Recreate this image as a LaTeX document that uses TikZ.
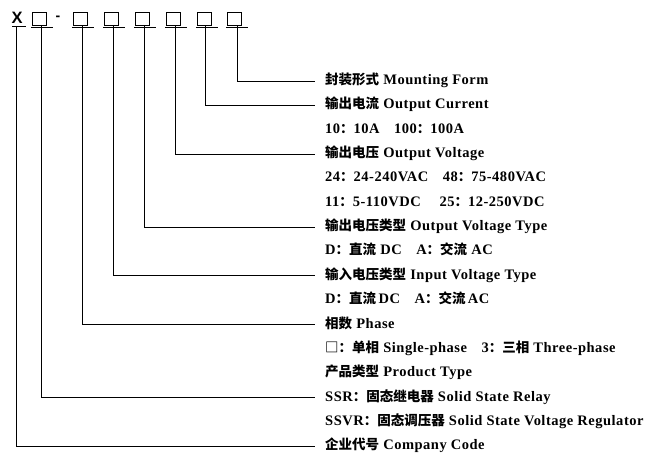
\documentclass[tikz,border=0pt]{standalone}
\usepackage{fontspec}
\setmainfont{Liberation Serif}[LetterSpace=3.5]
\newfontfamily\cjk{Noto Sans CJK SC}
\newfontfamily\topfont{Liberation Sans}
\newcommand\zh[1]{{\cjk\fontsize{13.5}{14}\selectfont #1}}
\begin{document}
\begin{tikzpicture}[x=1pt,y=-1pt,
  conn/.style={line width=0.9pt,black},
  codebox/.style={draw,line width=0.8pt,minimum width=14pt,minimum height=12.5pt,inner sep=0pt,anchor=north west},
  lab/.style={anchor=west,inner sep=0pt,font=\bfseries\fontsize{14.5}{15}\selectfont,text height=10pt,text depth=3pt},
]
\useasboundingbox (0,0) rectangle (650,462);
% top code
\node[inner sep=0pt,anchor=north west,font=\topfont\bfseries\fontsize{16.5}{17}\selectfont] (x) at (11.5,11.5) {X};
\node[inner sep=0pt,font=\topfont\bfseries\fontsize{14}{14}\selectfont] (dash) at (58,18.5) {-};
\foreach \i/\l in {1/32,2/73,3/104,4/135,5/166,6/197,7/227}{
  \node[codebox] (b\i) at (\l,12.3) {};
}
% underlines
\draw[conn] (12,26.5) -- (26,26.5);
\foreach \i in {1,...,7}{
  \draw[conn] ([shift={(-1,2)}]b\i.south west) -- ([shift={(6,2)}]b\i.south east);
}
% start points
\coordinate (u0) at (16,26.5);
\foreach \i/\xx in {1/41,2/82,3/113,4/144,5/175,6/205,7/237}{
  \coordinate (u\i) at (\xx,26.5);
}
% labels
\def\rowy#1{81+24.35*#1}
\node[lab] (l0) at (325,{\rowy{0}}) {\zh{封装形式} Mounting Form};
\node[lab] (l1) at (325,{\rowy{1}}) {\zh{输出电流} Output Current};
\node[lab] (l2) at (325,{\rowy{2}}) {10\zh{：}10A\quad 100\zh{：}100A};
\node[lab] (l3) at (325,{\rowy{3}}) {\zh{输出电压} Output Voltage};
\node[lab] (l4) at (325,{\rowy{4}}) {24\zh{：}24-240VAC\quad 48\zh{：}75-480VAC};
\node[lab] (l5) at (325,{\rowy{5}}) {11\zh{：}5-110VDC\quad\ 25\zh{：}12-250VDC};
\node[lab] (l6) at (325,{\rowy{6}}) {\zh{输出电压类型} Output Voltage Type};
\node[lab] (l7) at (325,{\rowy{7}}) {D\zh{：直流} DC\quad A\zh{：交流} AC};
\node[lab] (l8) at (325,{\rowy{8}}) {\zh{输入电压类型} Input Voltage Type};
\node[lab] (l9) at (325,{\rowy{9}}) {D\zh{：直流}\,DC\quad A\zh{：交流}\,AC};
\node[lab] (l10) at (325,{\rowy{10}}) {\zh{相数} Phase};
\node[lab] (l11) at (325,{\rowy{11}}) {\zh{□：单相} Single-phase\quad 3\zh{：三相} Three-phase};
\node[lab] (l12) at (325,{\rowy{12}}) {\zh{产品类型} Product Type};
\node[lab] (l13) at (325,{\rowy{13}}) {SSR\zh{：固态继电器} Solid State Relay};
\node[lab] (l14) at (325,{\rowy{14}}) {SSVR\zh{：固态调压器} Solid State Voltage Regulator};
\node[lab] (l15) at (325,{\rowy{15}}) {\zh{企业代号} Company Code};
% connectors
\foreach \u/\l in {u0/l15,u1/l13,u2/l10,u3/l8,u4/l6,u5/l3,u6/l1,u7/l0}{
  \draw[conn] (\u) |- ([xshift=-10pt]\l.west);
}
\end{tikzpicture}
\end{document}
